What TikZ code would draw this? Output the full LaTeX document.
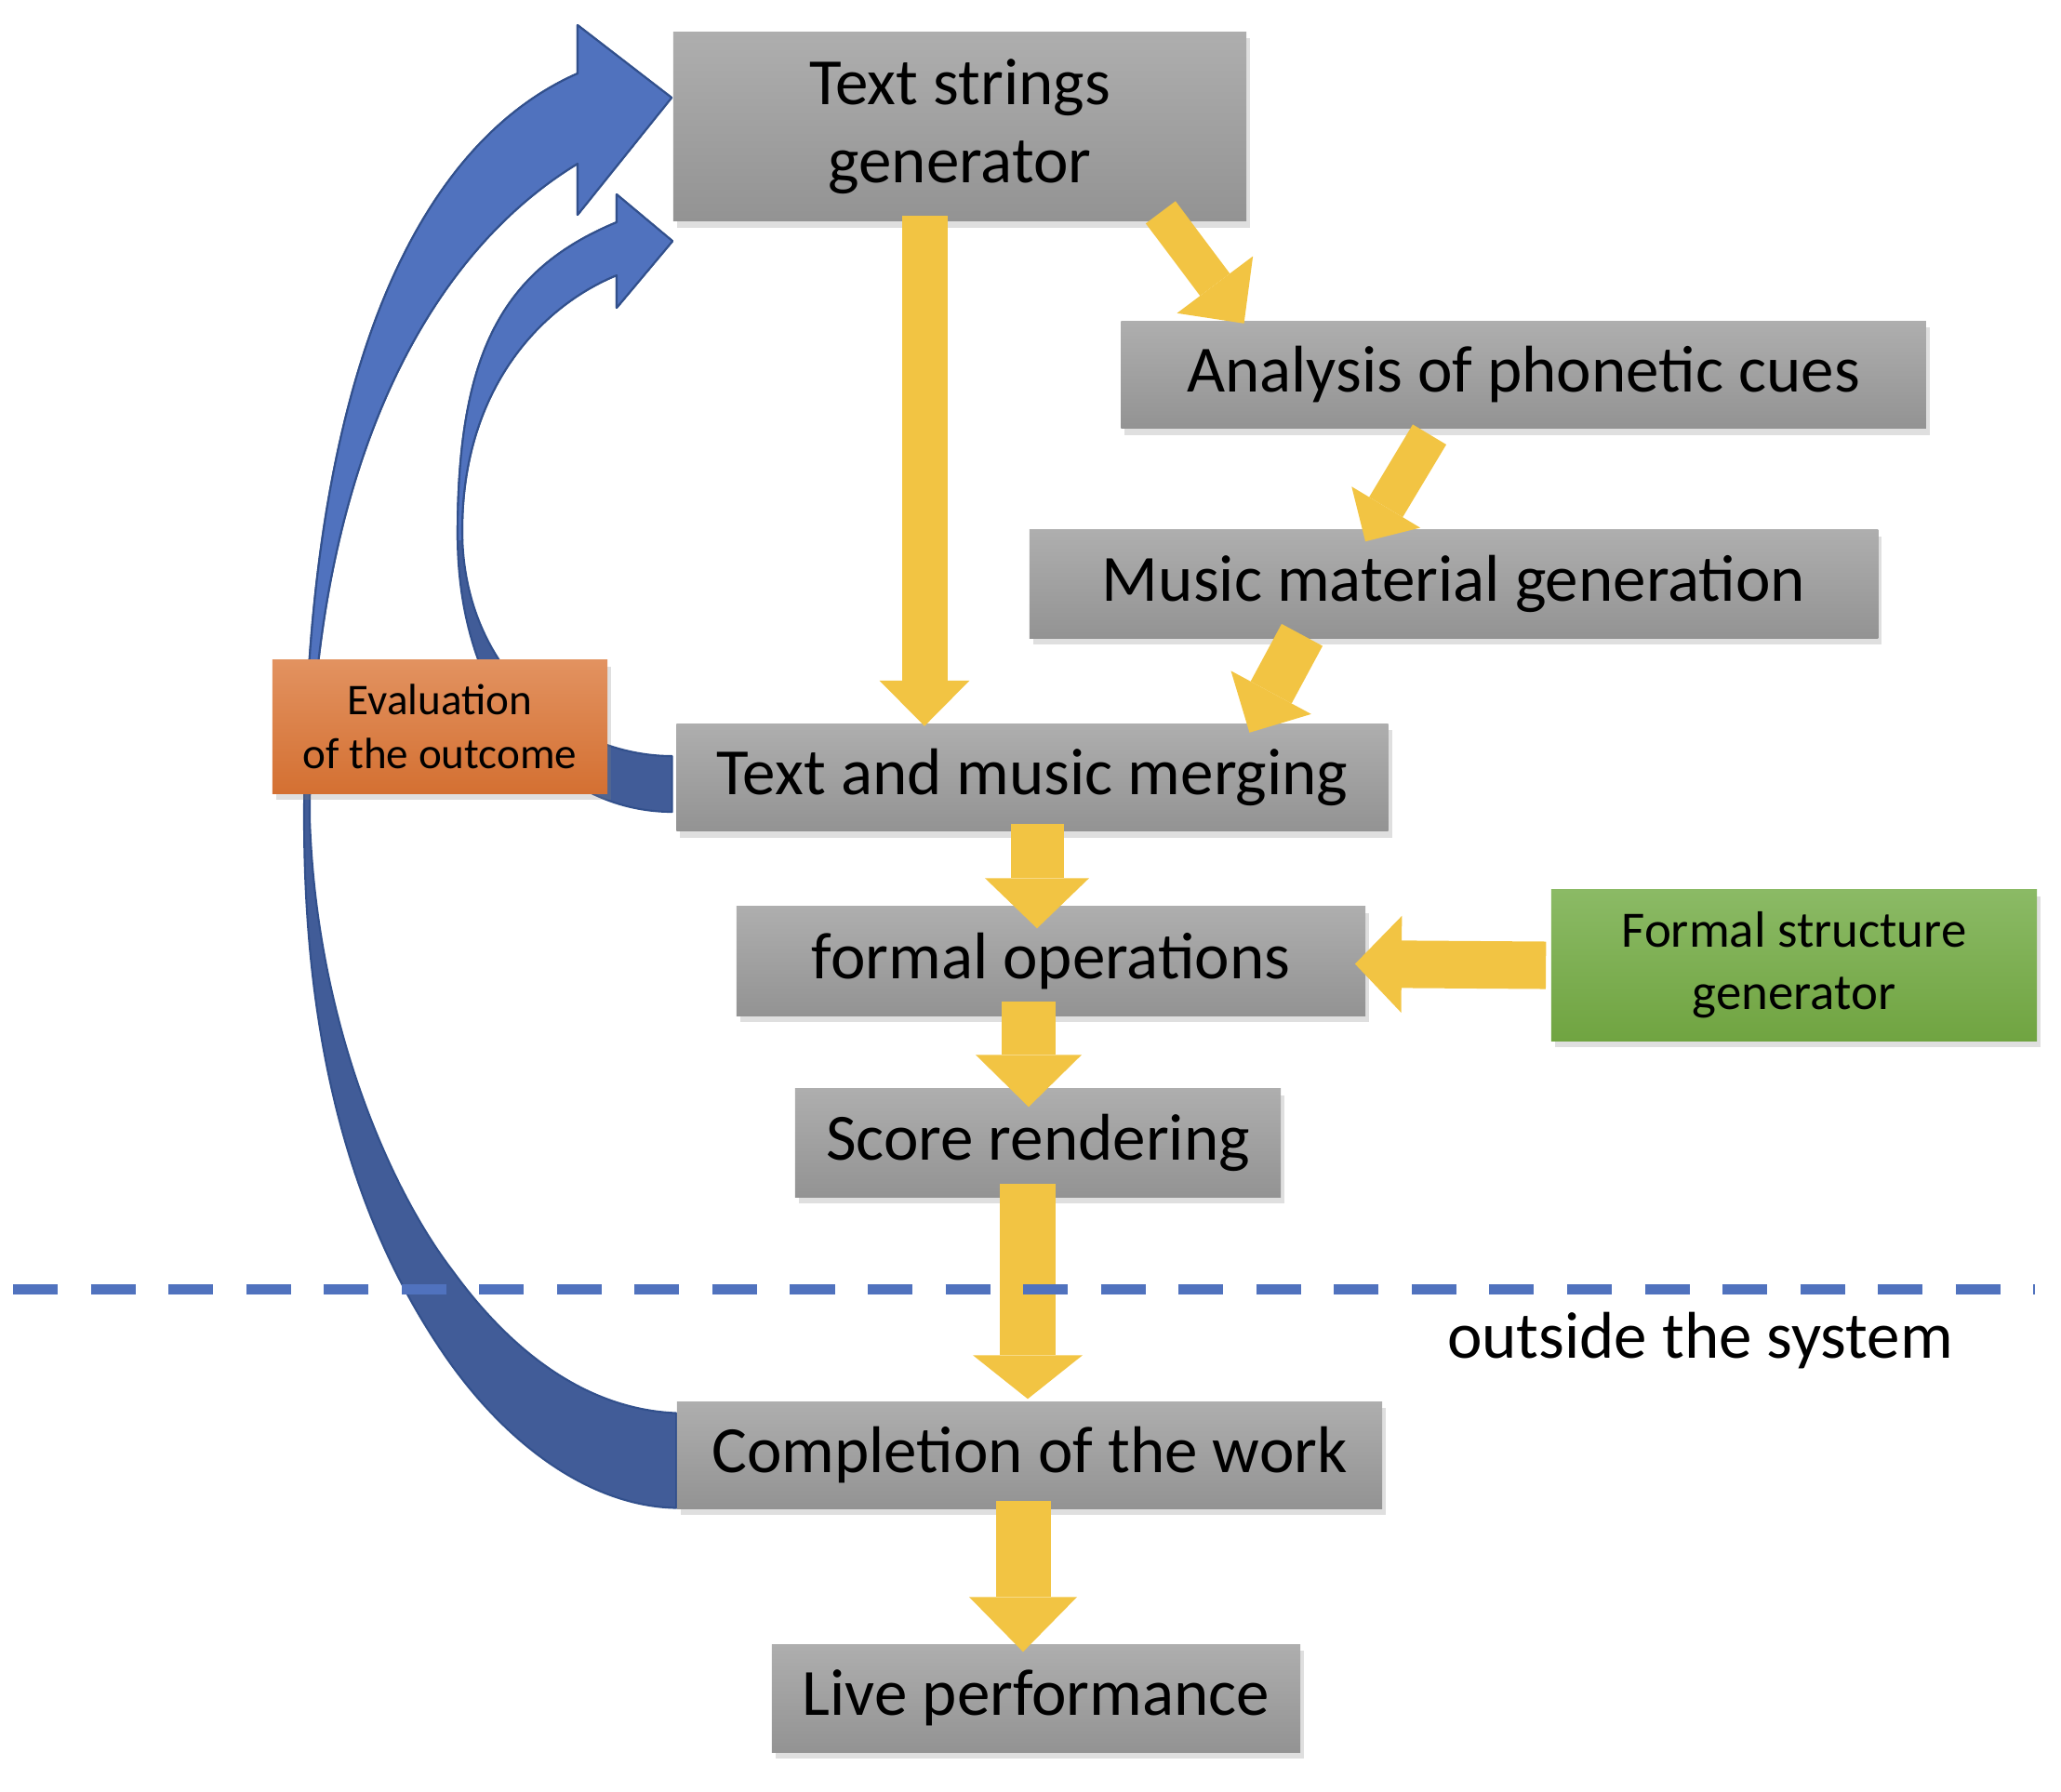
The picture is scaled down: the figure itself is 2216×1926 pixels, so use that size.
\documentclass[tikz,border=0pt]{standalone}
\usepackage{fontspec}
\setmainfont{Carlito}
\usetikzlibrary{arrows.meta,calc,shadows,backgrounds}

\definecolor{boxtop}{RGB}{174,174,174}
\definecolor{boxbot}{RGB}{147,147,147}
\definecolor{yel}{RGB}{242,196,67}
\definecolor{bluelight}{RGB}{80,114,190}
\definecolor{bluedark}{RGB}{65,92,152}
\definecolor{blueedge}{RGB}{50,80,140}
\definecolor{orangetop}{RGB}{226,146,96}
\definecolor{orangemid}{RGB}{228,131,66}
\definecolor{orangebot}{RGB}{212,112,50}
\definecolor{greentop}{RGB}{139,186,101}
\definecolor{greenbot}{RGB}{112,164,65}

\tikzset{
  box/.style={rectangle, top color=boxtop, bottom color=boxbot, align=center,
    inner sep=0pt, font=\fontsize{20.2}{23.9}\selectfont,
    drop shadow={shadow xshift=0.04cm, shadow yshift=-0.07cm, opacity=0.25}},
  evalbox/.style={box, top color=orangetop, middle color=orangemid, bottom color=orangebot,
    font=\fontsize{13.4}{16.4}\selectfont},
  formbox/.style={box, top color=greentop, bottom color=greenbot,
    font=\fontsize{15.6}{19}\selectfont},
  yarrow/.style n args={3}{draw=yel, line width=#1, line cap=butt,
    -{Triangle[width=#2, length=#3, line width=0pt]}},
  ribbon/.style={draw=blueedge, line width=0.6pt, line join=round},
}

% outlines of the two feedback loops
\newcommand{\longloop}{(lbot) .. controls (640,1620) and (550,1560) .. (480,1460)
  .. controls (390,1330) and (327,1150) .. (327,880)
  .. controls (327,380) and (460,150) .. (621,79) -- (621,27) -- (ltip) -- (621,231) -- (621,176)
  .. controls (450,280) and (333,520) .. (333,880)
  .. controls (340,1100) and (420,1280) .. (487,1367)
  .. controls (540,1440) and (620,1515) .. (ltop) -- cycle}
\newcommand{\shortloop}{(sbot) .. controls (600,873) and (492,760) .. (492,575)
  .. controls (492,380) and (540,290) .. (663,239) -- (663,209) -- (stip) -- (663,331) -- (663,296)
  .. controls (580,330) and (497,420) .. (497,570)
  .. controls (497,720) and (610,813) .. (stop) -- cycle}

\begin{document}
\begin{tikzpicture}[x=0.01cm, y=-0.01cm]
		\useasboundingbox (0,0) rectangle (2216,1926);

		%process boxes
		\node[box, minimum width=6.16cm, minimum height=2.03cm] (txt) at (1032,136) {Text strings\\generator};
		\node[box, minimum width=8.65cm, minimum height=1.15cm] (ana) at (1638,403) {Analysis of phonetic cues};
		\node[box, minimum width=9.12cm, minimum height=1.16cm] (mus) at (1563,628) {Music material generation};
		\node[box, minimum width=7.65cm, minimum height=1.15cm] (mrg) at (1110,836) {Text and music merging};
		\node[box, minimum width=6.76cm, minimum height=1.17cm] (fop) at (1130,1033.5) {formal operations};
		\node[box, minimum width=5.22cm, minimum height=1.16cm] (scr) at (1116,1229) {Score rendering};
		\node[box, minimum width=7.58cm, minimum height=1.15cm] (cmp) at (1107,1564.5) {Completion of the work};
		\node[box, minimum width=5.68cm, minimum height=1.16cm] (liv) at (1114,1826) {Live performance};

		%side boxes
		\node[evalbox, minimum width=3.60cm, minimum height=1.43cm] (evl) at (473,781.5) {Evaluation\\of the outcome};
		\node[formbox, minimum width=5.22cm, minimum height=1.62cm] (fsg) at (1929,1038) {Formal structure\\generator};

		%ends of the feedback loops
		\coordinate (ltop) at ($(cmp.west)+(0,-45)$);
		\coordinate (lbot) at ($(cmp.west)+(0,57)$);
		\coordinate (ltip) at ($(txt.west)+(-1,-31)$);
		\coordinate (stop) at ($(mrg.west)+(-4,-23)$);
		\coordinate (sbot) at ($(mrg.west)+(-4,37)$);
		\coordinate (stip) at ($(txt.south west)+(0,21)$);

		\begin{scope}[on background layer]
		%long loop
		\fill[bluedark, ribbon] \longloop;
		\begin{scope}
			\clip (0,0) rectangle (2216,790);
			\fill[bluelight, ribbon] \longloop;
		\end{scope}
		%short loop
		\fill[bluedark, ribbon] \shortloop;
		\begin{scope}
			\clip (0,0) rectangle (2216,580);
			\fill[bluelight, ribbon] \shortloop;
		\end{scope}
		\end{scope}

		%yellow arrows
		\draw[yarrow={0.49cm}{0.97cm}{0.49cm}] ($(txt.south)+(-38,-6)$) -- ($(mrg.north)+(-116,3)$);
		\draw[yarrow={0.40cm}{1.02cm}{0.52cm}] ($(txt.south east)+(-93,-10)$) -- ($(ana.north west)+(133,3)$);
		\draw[yarrow={0.42cm}{0.86cm}{0.43cm}] ($(ana.south)+(-101,6)$) -- ($(mus.north)+(-95,13)$);
		\draw[yarrow={0.50cm}{0.98cm}{0.49cm}] ($(mus.south)+(-163,-4)$) -- ($(mrg.north east)+(-150,10)$);
		\draw[yarrow={0.57cm}{1.12cm}{0.54cm}] ($(mrg.south)+(5,-8)$) -- ($(fop.north)+(-15,24)$);
		\draw[yarrow={0.58cm}{1.14cm}{0.56cm}] ($(fop.south)+(-24,-16)$) -- ($(scr.north)+(-10,20)$);
		\draw[yarrow={0.60cm}{1.18cm}{0.47cm}] ($(scr.south)+(-11,-15)$) -- ($(cmp.north)+(-2,-2)$);
		\draw[yarrow={0.59cm}{1.16cm}{0.59cm}] ($(cmp.south)+(-7,-9)$) -- ($(liv.north)+(-14,9)$);
		\draw[yarrow={0.51cm}{1.04cm}{0.50cm}] ($(fsg.west)+(-5,0)$) -- ($(fop.east)+(-12,3)$);

		%system border
		\coordinate (bl) at (14,1386);
		\coordinate (br) at (2188,1386);
		\draw[bluelight, line width=0.11cm, dash pattern=on 0.48cm off 0.355cm] (bl) -- (br);
		\node[anchor=base, font=\fontsize{20.2}{23.9}\selectfont] (out) at (1828,1460) {outside the system};

\end{tikzpicture}
\end{document}
